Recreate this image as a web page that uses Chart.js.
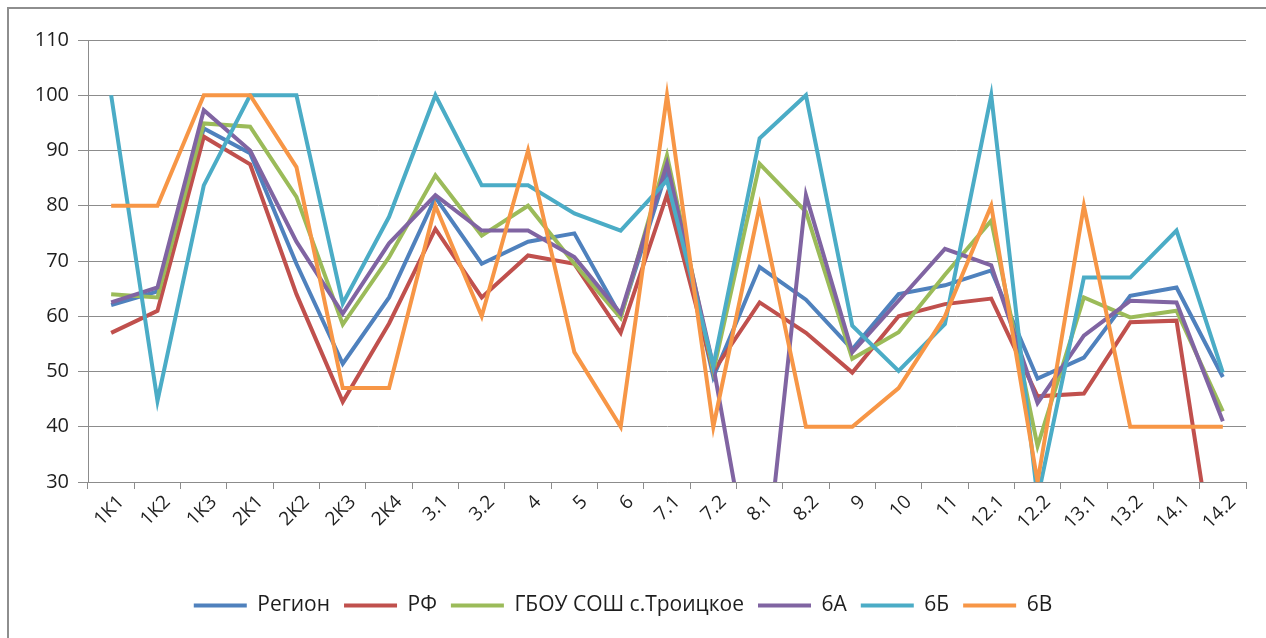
<!DOCTYPE html>
<html>
<head>
<meta charset="utf-8">
<script src="https://cdn.jsdelivr.net/npm/chart.js@4"></script>
<style>
  html, body { margin: 0; padding: 0; background: #fff; }
  #wrap { position: relative; width: 1266px; height: 638px; }
  #frame { position: absolute; left: 7px; top: 7px; right: -10px; bottom: -10px;
           border-left: 2px solid #8e8e8e; border-top: 2px solid #8e8e8e; pointer-events: none; }
</style>
</head>
<body>
<div id="wrap">
  <canvas id="chart"></canvas>
  <div id="frame"></div>
</div>
<script>
const categories = ['1К1', '1К2', '1К3', '2К1', '2К2', '2К3', '2К4', '3.1', '3.2', '4', '5', '6', '7.1', '7.2', '8.1', '8.2', '9', '10', '11', '12.1', '12.2', '13.1', '13.2', '14.1', '14.2'];

const region = [62, 64.5, 94, 89.5, 69.5, 51.4, 63.4, 81.5, 69.5, 73.5, 75, 60, 86.5, 49, 68.9, 63, 54, 64, 65.6, 68.3, 48.7, 52.5, 63.7, 65.2, 49];
const rf     = [57, 61, 92.5, 87.5, 64, 44.5, 58.7, 75.8, 63.4, 71, 69.5, 57, 82, 50, 62.5, 57, 49.8, 60, 62.2, 63.2, 45.5, 46, 58.9, 59.2, 5];
const school = [64, 63.4, 94.9, 94.3, 81.6, 58.5, 70.7, 85.5, 74.6, 80, 69.5, 59.7, 89.1, 50, 87.6, 78.9, 52.3, 57.1, 67.5, 77.3, 36.5, 63.4, 59.8, 61, 42.8];
const cls6a  = [62.5, 65.2, 97.3, 90, 73.5, 60.5, 73.2, 81.9, 75.5, 75.5, 70.7, 60.5, 87.6, 51, 4, 81.9, 53.5, 62.8, 72.2, 69.2, 44.3, 56.5, 62.8, 62.5, 41];
const cls6b  = [100, 44.7, 83.7, 100, 100, 62.3, 78, 100, 83.7, 83.7, 78.6, 75.5, 84.6, 51, 92.2, 100, 58.3, 50.1, 58.6, 100, 27, 67, 67, 75.5, 49.8];
const cls6v  = [80, 80, 100, 100, 87, 47, 47, 80, 60, 90, 53.5, 40, 100, 40, 80, 40, 40, 47, 60, 80, 30, 80, 40, 40, 40];

const yMin = 30, yMax = 110, yStep = 10;

const seriesNames = ['Регион', 'РФ', 'ГБОУ СОШ с.Троицкое', '6А', '6Б', '6В'];
const seriesData = [region, rf, school, cls6a, cls6b, cls6v];
const seriesColors = ['#4F81BD', '#C0504D', '#9BBB59', '#8064A2', '#4BACC6', '#F79646'];

const FONT = "'Open Sans', 'Noto Sans', sans-serif";
const gridColor = '#8c8c8c';
const textColor = '#1e1e1e';

const ctx = document.getElementById('chart').getContext('2d');
const chart = new Chart(ctx, {
    type: 'line',
    data: {
        labels: categories,
        datasets: seriesData.map((d, i) => ({
            label: seriesNames[i],
            data: d,
            borderColor: seriesColors[i],
            backgroundColor: seriesColors[i],
            borderWidth: 4,
            pointRadius: 0,
            tension: 0,
            order: seriesData.length - i
        }))
    },
    options: {
        responsive: true,
        maintainAspectRatio: false,
        animation: false,
        layout: { padding: { top: 40, right: 20, left: 0, bottom: 12 } },
        plugins: {
            tooltip: { enabled: false },
            legend: {
                position: 'bottom',
                labels: {
                    usePointStyle: true,
                    pointStyle: 'line',
                    pointStyleWidth: 53,
                    padding: 14,
                    color: textColor,
                    font: { family: FONT, size: 21 },
                    sort: (a, b) => a.datasetIndex - b.datasetIndex
                }
            }
        },
        scales: {
            x: {
                offset: true,
                grid: { drawOnChartArea: false, drawTicks: true, tickLength: 7, color: gridColor, offset: true },
                border: { color: gridColor, width: 1 },
                ticks: { minRotation: 45, maxRotation: 45, autoSkip: false, padding: 2, labelOffset: 10,
                         color: textColor, font: { family: FONT, size: 19 } },
                afterFit: (scale) => { scale.height = 99; }
            },
            y: {
                min: yMin,
                max: yMax,
                ticks: { stepSize: yStep, padding: 9, color: textColor, font: { family: FONT, size: 20 } },
                grid: { color: gridColor, tickLength: 10, lineWidth: 1 },
                border: { color: gridColor, width: 1 },
                afterFit: (scale) => { scale.width = 88; }
            }
        }
    }
});
</script>
</body>
</html>
